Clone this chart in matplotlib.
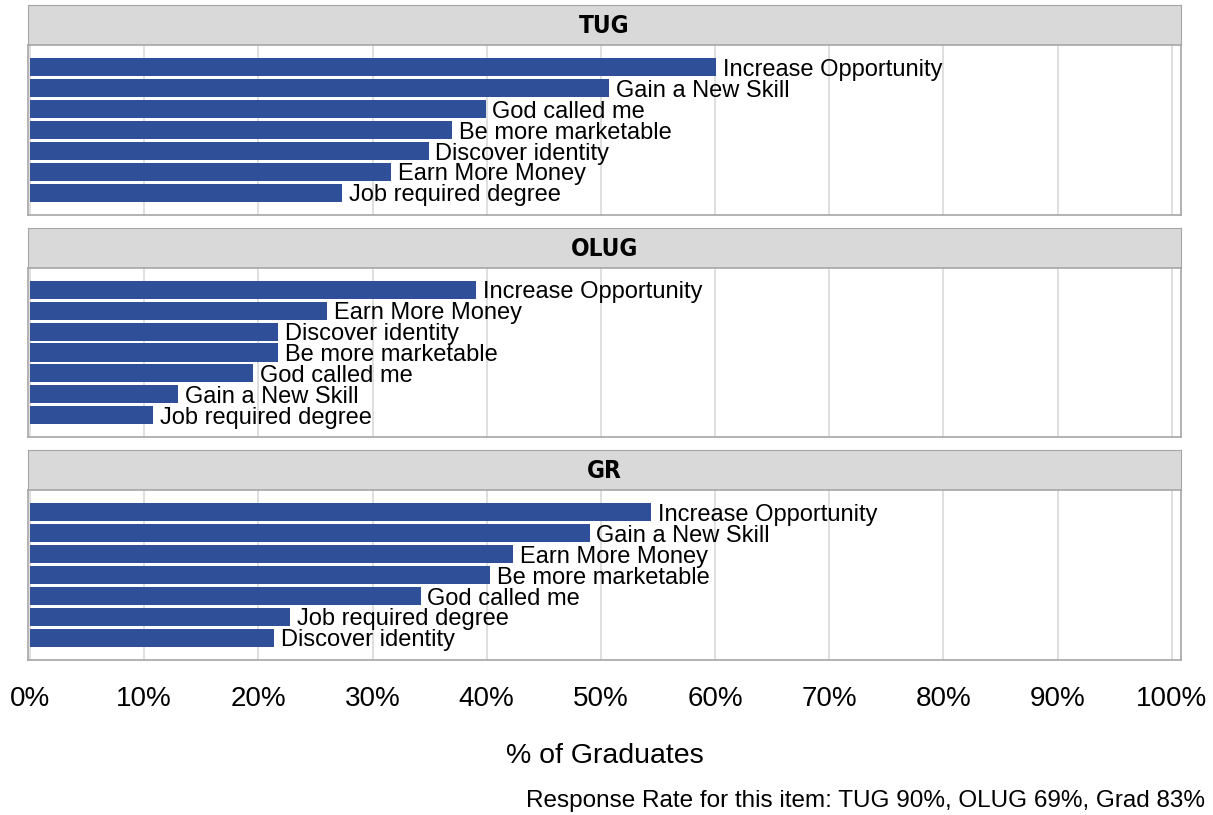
import matplotlib
matplotlib.use("Agg")
import matplotlib.pyplot as plt

# data (percent of graduates), top bar first
tug_labels = ["Increase Opportunity", "Gain a New Skill", "God called me", "Be more marketable",
              "Discover identity", "Earn More Money", "Job required degree"]
tug_values = [60.1, 50.7, 39.9, 37.0, 34.9, 31.6, 27.3]

olug_labels = ["Increase Opportunity", "Earn More Money", "Discover identity", "Be more marketable",
               "God called me", "Gain a New Skill", "Job required degree"]
olug_values = [39.1, 26.0, 21.7, 21.7, 19.5, 13.0, 10.8]

gr_labels = ["Increase Opportunity", "Gain a New Skill", "Earn More Money", "Be more marketable",
             "God called me", "Job required degree", "Discover identity"]
gr_values = [54.4, 49.0, 42.3, 40.3, 34.2, 22.8, 21.4]

panel_titles = ["TUG", "OLUG", "GR"]
x_ticks = [0, 10, 20, 30, 40, 50, 60, 70, 80, 90, 100]

plt.rcParams['font.family'] = ['Liberation Sans', 'DejaVu Sans']

BAR = "#2f4f99"
W, H = 1213, 815
fig = plt.figure(figsize=(W / 100, H / 100), dpi=100)

def fx(px):
    return px / W

def fy(py):
    return 1 - py / H

left, right = 28, 1181
panels = [(5, 45, 215), (228, 268, 437), (450, 490, 660)]
data = [(tug_labels, tug_values), (olug_labels, olug_values), (gr_labels, gr_values)]

for i, ((s_top, a_top, a_bot), (labels, vals)) in enumerate(zip(panels, data)):
    # strip header
    sax = fig.add_axes([fx(left), fy(a_top), fx(right - left), (a_top - s_top) / H])
    sax.set_facecolor("#d9d9d9")
    sax.set_xticks([])
    sax.set_yticks([])
    for sp in sax.spines.values():
        sp.set_color("#a6a6a6")
    sax.text(0.5, 0.48, panel_titles[i], ha="center", va="center", fontsize=17.5,
             fontweight="bold", fontstretch="condensed",
             family=['Liberation Sans Narrow', 'DejaVu Sans', 'Liberation Sans'],
             transform=sax.transAxes)

    ax = fig.add_axes([fx(left), fy(a_bot), fx(right - left), (a_bot - a_top) / H])
    n = len(vals)
    ypos = list(range(n))[::-1]
    ax.barh(ypos, vals, height=0.87, color=BAR, zorder=2)
    for y, v, lab in zip(ypos, vals, labels):
        ax.text(v + 0.6, y - 0.12, lab, va="center", ha="left", fontsize=17, zorder=3)
    ax.set_xlim(-0.175, 100.8)
    ax.set_ylim(-1.05, n - 1 + 1.05)
    ax.set_yticks([])
    ax.set_xticks(x_ticks)
    ax.grid(axis="x", color="#d9d9d9", linewidth=1.2, zorder=0)
    ax.tick_params(axis="x", length=0)
    for sp in ax.spines.values():
        sp.set_color("#a6a6a6")
        sp.set_linewidth(1.2)
    if i < 2:
        ax.set_xticklabels([])
    else:
        ax.set_xticklabels([f"{t}%" for t in x_ticks], fontsize=20)
        ax.tick_params(axis="x", pad=19)
        ax.set_xlabel("% of Graduates", fontsize=20.5, labelpad=22)

fig.text(fx(1205), fy(801), "Response Rate for this item: TUG 90%, OLUG 69%, Grad 83%",
         ha="right", va="center", fontsize=17.5)

fig.savefig("out.png", dpi=100)
